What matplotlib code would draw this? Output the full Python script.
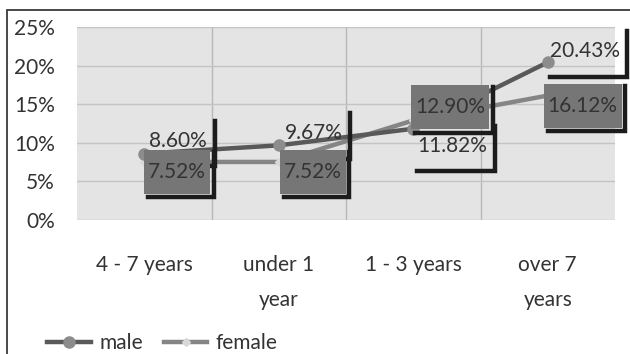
import matplotlib
matplotlib.use("Agg")
import matplotlib.pyplot as plt
from matplotlib.patches import Rectangle
from matplotlib.lines import Line2D
from matplotlib.transforms import IdentityTransform

categories = ["4 - 7 years", "under 1\nyear", "1 - 3 years", "over 7\nyears"]
male = [8.60, 9.67, 11.82, 20.43]
female = [7.52, 7.52, 12.90, 16.12]
y_ticks = [0, 5, 10, 15, 20, 25]

# data label placement (pixels from the point: right, up)
male_offsets = [(34, 13), (35, 12), (39, -17), (37, 11)]
female_offsets = [(33, -10), (34, -10), (37, 13), (35, -10)]

plt.rcParams["font.family"] = ["Lato", "DejaVu Sans"]
TXT = "#333333"
FS = 15

fig = plt.figure(figsize=(6.3, 3.54), dpi=100)
ax = fig.add_axes([77 / 630, 1 - 220 / 354, (615 - 77) / 630, (220 - 27) / 354])
ax.set_facecolor("#e4e4e4")

x = list(range(len(categories)))
ax.plot(x, male, color="#595959", lw=3.2, marker="o", ms=8,
        mfc="#8c8c8c", mec="#8c8c8c", label="male", zorder=3)
ax.plot(x, female, color="#858585", lw=3.2, marker="D", ms=4,
        mfc="#d8d8d8", mec="#d8d8d8", label="female", zorder=2)

ax.set_xlim(-0.5, 3.5)
ax.set_ylim(0, 25)
ax.set_yticks(y_ticks)
ax.set_yticklabels([f"{v}%" for v in y_ticks])
ax.set_xticks([i + 0.5 for i in x[:-1]], minor=True)
ax.set_xticks(x)
ax.set_xticklabels(categories, linespacing=1.95)
ax.grid(True, axis="y", color="#c4c4c4", lw=1)
ax.grid(True, axis="x", which="minor", color="#b8b8b8", lw=1)
ax.tick_params(axis="both", which="both", length=0, labelsize=FS, colors=TXT)
ax.tick_params(axis="y", pad=16)
ax.tick_params(axis="x", pad=25)
for s in ax.spines.values():
    s.set_visible(False)
ax.set_axisbelow(True)

# outer frame
fig.add_artist(Rectangle((7 / 630, -0.5), 1.5, 1 - 10 / 354 + 0.5, transform=fig.transFigure,
                         fill=False, edgecolor="#3a3a3a", lw=1.3))

leg = ax.legend(loc="lower left", bbox_to_anchor=(0.045, -0.05), bbox_transform=fig.transFigure,
                ncol=2, frameon=False, fontsize=FS, handlelength=2.1, handletextpad=0.4,
                columnspacing=1.0, labelcolor=TXT)

# data labels
texts = []
for vals, offs, filled in [(male, male_offsets, False), (female, female_offsets, True)]:
    for i, (v, (dx, dy)) in enumerate(zip(vals, offs)):
        t = ax.annotate(f"{v:.2f}%", (i, v), xytext=(dx * 0.72, dy * 0.72),
                        textcoords="offset points", ha="center", va="center",
                        fontsize=FS, color=TXT, zorder=8, annotation_clip=False)
        texts.append((t, filled))

fig.canvas.draw()
r = fig.canvas.get_renderer()
for t, filled in texts:
    bb = t.get_window_extent(r)
    cx, cy = (bb.x0 + bb.x1) / 2, (bb.y0 + bb.y1) / 2
    w, h = bb.width + 8, 44
    x0, y0 = cx - w / 2, cy - h / 2
    if filled:
        ax.add_artist(Rectangle((x0, y0), w, h, transform=IdentityTransform(), facecolor="#767676",
                                edgecolor="none", zorder=6, clip_on=False))
    sh = 3.5
    ax.add_artist(Line2D([x0 + 4, x0 + w + sh, x0 + w + sh], [y0 - sh, y0 - sh, y0 + h - 2],
                         transform=IdentityTransform(), color="#1c1c1c", lw=3.2,
                         solid_joinstyle="miter", zorder=5, clip_on=False))

fig.savefig("out.png", dpi=100)
